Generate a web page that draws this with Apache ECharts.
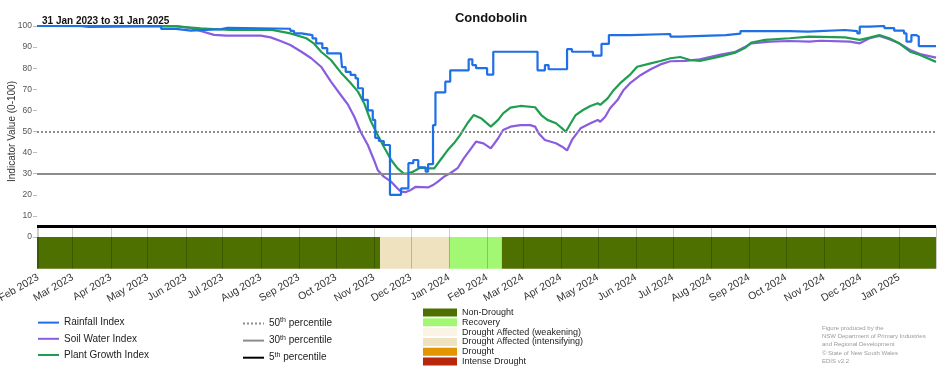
<!DOCTYPE html>
<html>
<head>
<meta charset="utf-8">
<script src="https://cdn.jsdelivr.net/npm/echarts@6/dist/echarts.min.js"></script>
<style>html,body{margin:0;padding:0;background:#fff}#c{width:952px;height:370px}</style>
</head>
<body>
<div id="c"></div>
<script>
// ---------------- DATA ----------------
const rainfallDates = ['2023-01-31','2023-03-08','2023-03-14','2023-05-12','2023-05-24','2023-06-05','2023-06-30','2023-07-05','2023-08-25','2023-08-28','2023-09-03','2023-09-12','2023-09-15','2023-09-20','2023-09-24','2023-10-05','2023-10-06','2023-10-09','2023-10-13','2023-10-17','2023-10-19','2023-10-23','2023-10-27','2023-10-31','2023-11-02','2023-11-05','2023-11-09','2023-11-14','2023-11-23','2023-11-29','2023-12-03','2023-12-07','2023-12-13','2023-12-15','2023-12-19','2023-12-21','2023-12-29','2024-01-02','2024-01-17','2024-01-20','2024-01-23','2024-02-01','2024-02-06','2024-03-13','2024-03-19','2024-03-22','2024-04-06','2024-04-10','2024-04-27','2024-05-04','2024-05-10','2024-05-27','2024-06-29','2024-07-07','2024-08-13','2024-08-25','2024-10-04','2024-10-19','2024-11-18','2024-11-28','2024-11-30','2024-12-08','2024-12-20','2024-12-28','2025-01-05','2025-01-07','2025-01-11','2025-01-15','2025-01-17','2025-01-31'];
const rainfallValues = [100,99.6,100,98.6,97.8,98.5,99.1,98.7,97.7,96.5,95.7,94.1,91.8,89.5,87,87.8,80.5,78.3,76.8,75.2,70.5,65,60,55.5,47,45.5,43.6,20,23,35,36.5,33,31,34.5,53,68.5,73.6,79,84.2,81.5,80,77,87.8,79,81.5,79.5,89,87.8,86,91.5,95.7,96.2,95,95.7,96.4,97.6,97.3,98.1,97.6,96.5,99.7,100,99,97.8,96.5,92.6,95.7,95,90.5,90.5];

const soilDates = ['2023-01-31','2023-05-24','2023-06-05','2023-06-13','2023-06-24','2023-07-04','2023-08-01','2023-08-09','2023-08-17','2023-08-25','2023-09-03','2023-09-11','2023-09-19','2023-09-27','2023-10-05','2023-10-11','2023-10-16','2023-10-21','2023-10-27','2023-11-01','2023-11-04','2023-11-09','2023-11-15','2023-11-20','2023-11-23','2023-11-27','2023-12-01','2023-12-05','2023-12-15','2023-12-19','2023-12-23','2023-12-28','2024-01-02','2024-01-08','2024-01-13','2024-01-19','2024-01-23','2024-01-29','2024-02-04','2024-02-10','2024-02-14','2024-02-20','2024-02-28','2024-03-07','2024-03-11','2024-03-14','2024-03-19','2024-03-28','2024-04-02','2024-04-06','2024-04-10','2024-04-17','2024-04-25','2024-05-01','2024-05-03','2024-05-07','2024-05-11','2024-05-17','2024-05-22','2024-05-27','2024-06-05','2024-06-13','2024-06-21','2024-06-29','2024-07-11','2024-07-23','2024-08-08','2024-08-21','2024-08-29','2024-09-03','2024-09-18','2024-10-04','2024-10-20','2024-10-29','2024-11-22','2024-11-30','2024-12-08','2024-12-16','2024-12-24','2025-01-01','2025-01-10','2025-01-18','2025-01-31'];
const soilValues = [100,100,99,97.6,95.8,95.4,95.4,94.6,92.9,91,87.8,84.7,80.7,73.6,67.3,62.6,57,50,43.6,36.5,31.8,28.6,26.2,23.1,21.5,21.3,22.3,23.8,23.5,24.6,26.2,28.6,30.2,32.6,37.3,42,45.2,44.4,42,46.8,50.7,52.3,53,53,52.3,49.1,46,44.4,42.8,41,46,51.5,53.9,55.5,54.6,57,61,64.9,69.7,72.8,76.8,79.5,81.8,83.3,83.5,84.2,86.3,87.8,90.2,91.8,92.6,92.9,92.6,93,92.6,91.8,94.2,95.3,93.7,91.8,88.6,86.7,85];

const plantDates = ['2023-01-31','2023-05-24','2023-06-13','2023-07-07','2023-08-09','2023-08-25','2023-09-07','2023-09-13','2023-09-19','2023-09-27','2023-10-05','2023-10-13','2023-10-19','2023-10-24','2023-10-29','2023-11-04','2023-11-09','2023-11-15','2023-11-20','2023-11-25','2023-11-28','2023-12-03','2023-12-09','2023-12-15','2023-12-20','2023-12-25','2023-12-31','2024-01-05','2024-01-10','2024-01-16','2024-01-21','2024-01-27','2024-02-04','2024-02-10','2024-02-14','2024-02-20','2024-02-28','2024-03-11','2024-03-16','2024-03-21','2024-03-28','2024-04-02','2024-04-05','2024-04-09','2024-04-13','2024-04-19','2024-04-25','2024-05-01','2024-05-03','2024-05-09','2024-05-14','2024-05-19','2024-05-27','2024-06-02','2024-06-13','2024-06-21','2024-06-29','2024-07-07','2024-07-15','2024-07-23','2024-08-08','2024-08-21','2024-08-29','2024-09-03','2024-09-14','2024-10-04','2024-10-20','2024-11-18','2024-11-30','2024-12-08','2024-12-16','2024-12-24','2025-01-01','2025-01-10','2025-01-18','2025-01-31'];
const plantValues = [100,99.8,98.9,98.1,98.3,96.5,94.2,91.8,87.8,83.9,78,73,68.9,63.4,55.5,48.3,42.8,36.5,32.6,30.2,30,31,32.9,32.5,32.5,36.5,41.2,44.4,48.3,53.9,57.8,56.3,52.3,55.5,58.6,61.3,62.1,61.5,57.8,55.5,53.9,51.5,49.9,53.9,57.8,60.2,62.1,63.4,62.6,65.7,69.7,72.8,76.8,80.7,82.3,83.4,84.7,85.3,83.9,83.4,85.5,87.4,89.7,92.2,93.4,94.2,95,94.6,93.4,94.5,95.7,94.2,91.8,87.8,86.3,83];

const percentileNames = ['50th percentile','30th percentile','5th percentile'];
const percentileValues = [50, 30, 5];

const droughtStart = ['2023-01-31','2023-11-06','2024-01-01','2024-02-13'];
const droughtEnd = ['2023-11-06','2024-01-01','2024-02-13','2025-01-31'];
const droughtCategory = ['Non-Drought','Drought Affected (intensifying)','Recovery','Non-Drought'];
const categoryNames = ['Non-Drought','Recovery','Drought Affected (weakening)','Drought Affected (intensifying)','Drought','Intense Drought'];

const monthNames = ['Jan','Feb','Mar','Apr','May','Jun','Jul','Aug','Sep','Oct','Nov','Dec'];
const creditLines = ['Figure produced by the','NSW Department of Primary Industries','and Regional Development','\u00A9 State of New South Wales','EDIS v2.2'];

// ---------------- STYLE ----------------
const FONT = 'Liberation Sans, Arial, sans-serif';
const categoryColors = {
  'Non-Drought': '#4d7000',
  'Recovery': '#a3f873',
  'Drought Affected (weakening)': '#fbf3e4',
  'Drought Affected (intensifying)': '#efe2be',
  'Drought': '#e39500',
  'Intense Drought': '#b8270b'
};
const percentileStyles = [
  {color: '#8c8c8c', width: 2, type: [2, 2]},
  {color: '#8c8c8c', width: 2, type: 'solid'},
  {color: '#000000', width: 3, type: 'solid'}
];

const t = s => { const p = s.split('-').map(Number); return new Date(p[0], p[1] - 1, p[2]).getTime(); };
const zip = (d, v) => d.map((x, i) => [t(x), v[i]]);
const xMin = t('2023-01-31'), xMax = t('2025-01-31');

const series = [
  {name: 'Soil Water Index', type: 'line', data: zip(soilDates, soilValues), color: '#8a5ce0',
   showSymbol: false, symbol: 'none', lineStyle: {width: 2.2}, z: 3, silent: true},
  {name: 'Plant Growth Index', type: 'line', data: zip(plantDates, plantValues), color: '#1f9e50',
   showSymbol: false, symbol: 'none', lineStyle: {width: 2.2}, z: 4, silent: true},
  {name: 'Rainfall Index', type: 'line', step: 'end', data: zip(rainfallDates, rainfallValues), color: '#1f6fe6',
   showSymbol: false, symbol: 'none', lineStyle: {width: 2.2}, z: 5, silent: true}
];
percentileNames.forEach((n, i) => {
  series.push({
    name: n, type: 'line', data: [], color: percentileStyles[i].color,
    showSymbol: false, symbol: 'none', lineStyle: percentileStyles[i], z: 2,
    markLine: {silent: true, symbol: 'none', label: {show: false}, lineStyle: percentileStyles[i],
      data: [{yAxis: percentileValues[i]}]}
  });
});
series.push({
  name: 'droughtBar', type: 'line', xAxisIndex: 1, yAxisIndex: 1, data: [], silent: true,
  markArea: {silent: true, data: droughtStart.map((s, i) => [
    {xAxis: t(s), yAxis: 0, itemStyle: {color: categoryColors[droughtCategory[i]], opacity: 1}},
    {xAxis: t(droughtEnd[i]), yAxis: -15}
  ])}
});
categoryNames.forEach(n => {
  series.push({name: n, type: 'line', xAxisIndex: 1, yAxisIndex: 1, data: [], color: categoryColors[n],
    showSymbol: false, symbol: 'none'});
});

const option = {
  animation: false,
  textStyle: {fontFamily: FONT},
  title: [
    {text: 'Condobolin', left: 486, top: 7, textAlign: 'center',
     textStyle: {fontSize: 13, fontWeight: 'bold', color: '#111', fontFamily: FONT}},
    {text: '31 Jan 2023 to 31 Jan 2025', left: 37, top: 11,
     textStyle: {fontSize: 10, fontWeight: 'bold', color: '#111', fontFamily: FONT}},
    {text: creditLines.join('\n'), left: 817, top: 319,
     textStyle: {fontSize: 6, fontWeight: 'normal', color: '#9a9a9a', lineHeight: 8.3, fontFamily: FONT}}
  ],
  grid: [
    {left: 37, right: 16, top: 26, height: 211, outerBoundsMode: 'none', containLabel: false},
    {left: 37, right: 16, top: 226.5, height: 42.2, outerBoundsMode: 'none', containLabel: false}
  ],
  xAxis: [
    {type: 'time', gridIndex: 0, min: xMin, max: xMax, show: false},
    {type: 'time', gridIndex: 1, min: xMin, max: xMax, z: 3, splitNumber: 24,
     axisLine: {show: false}, axisTick: {show: false},
     splitLine: {show: true, lineStyle: {color: 'rgba(0,0,0,0.2)', width: 1}},
     axisLabel: {rotate: 30, fontSize: 10.5, color: '#333', margin: 8, fontFamily: FONT,
       hideOverlap: false, interval: 0,
       formatter: function (v) {
         const d = new Date(v);
         if (d.getDate() !== 1) return '';
         return monthNames[d.getMonth()] + ' ' + d.getFullYear();
       }}}
  ],
  yAxis: [
    {type: 'value', gridIndex: 0, min: 0, max: 100, interval: 10,
     name: 'Indicator Value (0-100)', nameLocation: 'middle', nameGap: 20, nameMoveOverlap: false,
     nameTextStyle: {fontSize: 10, color: '#333', fontFamily: FONT},
     axisLine: {show: false}, splitLine: {show: false},
     axisTick: {show: true, length: 4, lineStyle: {color: '#bbb'}},
     axisLabel: {fontSize: 8.5, color: '#555', margin: 5, fontFamily: FONT}},
    {type: 'value', gridIndex: 1, min: -15, max: 5, show: false}
  ],
  legend: [
    {data: ['Rainfall Index', 'Soil Water Index', 'Plant Growth Index'], orient: 'vertical', padding: 0,
     left: 37, top: 317, height: 60, itemWidth: 21, itemHeight: 14, itemGap: 5, selectedMode: false,
     itemStyle: {opacity: 0},
     textStyle: {fontSize: 10, color: '#222', fontFamily: FONT}},
    {data: percentileNames, orient: 'vertical', left: 242, top: 317, height: 60, itemWidth: 21, itemHeight: 14,
     itemGap: 5, padding: 0, selectedMode: false, itemStyle: {opacity: 0},
     formatter: function (name) {
       const m = /^(\d+)th (.*)$/.exec(name);
       return m ? '{n|' + m[1] + '}{s|th}{n| ' + m[2] + '}' : name;
     },
     textStyle: {fontSize: 10, color: '#222', fontFamily: FONT,
       rich: {n: {fontSize: 10, color: '#222', fontFamily: FONT},
              s: {fontSize: 7, color: '#222', fontFamily: FONT, padding: [0, 0, 6, 0]}}}},
    {data: categoryNames, orient: 'vertical', left: 423, top: 308, height: 70, icon: 'rect', padding: 0,
     itemWidth: 34, itemHeight: 8, itemGap: 0.8, selectedMode: false,
     textStyle: {fontSize: 9, lineHeight: 9, color: '#222', fontFamily: FONT}}
  ],
  series: series
};

const chart = echarts.init(document.getElementById('c'), null, {renderer: 'canvas'});
chart.setOption(option);
</script>
</body>
</html>
